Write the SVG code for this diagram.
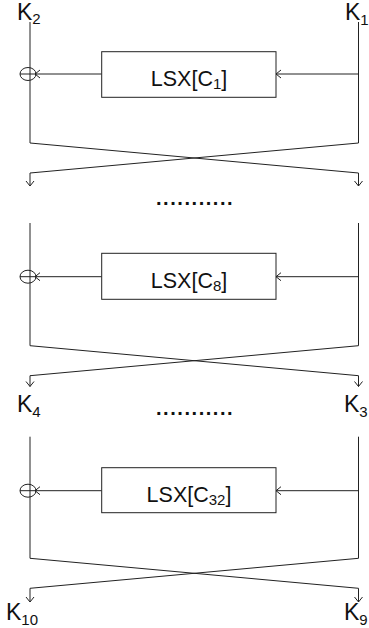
<svg xmlns="http://www.w3.org/2000/svg" width="369" height="628" viewBox="0 0 369 628">
<style>
.ln{fill:none;stroke:#222;stroke-width:1}
.box{fill:#fff;stroke:#222;stroke-width:1}
.xor{fill:none;stroke:#222;stroke-width:1}
.t{font-family:"Liberation Sans",Arial,sans-serif;fill:#111}
.k{font-size:23px}
.b{font-size:21.5px}
.sub{font-size:15px}
.dots{font-family:"Liberation Sans",Arial,sans-serif;font-size:20px;font-weight:bold;letter-spacing:1.55px;fill:#111}
</style>
<defs>
<marker id="arr" viewBox="-6 -5 7 10" markerWidth="7" markerHeight="10" refX="0" refY="0" orient="auto" markerUnits="userSpaceOnUse">
<path d="M-5,-4 L0,0 L-5,4" fill="none" stroke="#222" stroke-width="1"/>
</marker>
</defs>
<g id="connectors">
<path class="ln" d="M30,22 V143 L358.5,173 V186" marker-end="url(#arr)"/>
<path class="ln" d="M358.5,22 V143 L30,173 V186" marker-end="url(#arr)"/>
<path class="ln" d="M358.5,74 H276" marker-end="url(#arr)"/>
<path class="ln" d="M101.7,74 H35" marker-end="url(#arr)"/>
<path class="ln" d="M30,223 V345.7 L358.5,375.7 V386.5" marker-end="url(#arr)"/>
<path class="ln" d="M358.5,223 V345.7 L30,375.7 V386.5" marker-end="url(#arr)"/>
<path class="ln" d="M358.5,276.7 H276" marker-end="url(#arr)"/>
<path class="ln" d="M101.7,276.7 H35" marker-end="url(#arr)"/>
<path class="ln" d="M30,436.7 V558.3 L358.5,588.3 V602" marker-end="url(#arr)"/>
<path class="ln" d="M358.5,436.7 V558.3 L30,588.3 V602" marker-end="url(#arr)"/>
<path class="ln" d="M358.5,490.7 H276" marker-end="url(#arr)"/>
<path class="ln" d="M101.7,490.7 H35" marker-end="url(#arr)"/>
</g>
<g id="xor1"><ellipse class="xor" cx="28" cy="74" rx="8" ry="6.5"/><path class="xor" d="M20,74 H36"/></g>
<g id="xor2"><ellipse class="xor" cx="28" cy="276.7" rx="8" ry="6.5"/><path class="xor" d="M20,276.7 H36"/></g>
<g id="xor3"><ellipse class="xor" cx="28" cy="490.7" rx="8" ry="6.5"/><path class="xor" d="M20,490.7 H36"/></g>
<g id="lsx1">
<rect class="box" x="101.7" y="51.7" width="174.3" height="45.6"/>
<text class="t b" x="189" y="85.5" text-anchor="middle">LSX[C<tspan class="sub" dy="3">1</tspan><tspan dy="-3">]</tspan></text>
</g>
<g id="lsx8">
<rect class="box" x="101.7" y="253.3" width="174.3" height="46"/>
<text class="t b" x="189" y="287.5" text-anchor="middle">LSX[C<tspan class="sub" dy="3">8</tspan><tspan dy="-3">]</tspan></text>
</g>
<g id="lsx32">
<rect class="box" x="101.7" y="467.7" width="174.3" height="45"/>
<text class="t b" x="189" y="501.5" text-anchor="middle">LSX[C<tspan class="sub" dy="3">32</tspan><tspan dy="-3">]</tspan></text>
</g>
<g id="k2"><text class="t k" x="17" y="19.5">K<tspan class="sub" dy="4.5">2</tspan></text></g>
<g id="k1"><text class="t k" x="345" y="20">K<tspan class="sub" dy="5">1</tspan></text></g>
<g id="k4"><text class="t k" x="17" y="411.7">K<tspan class="sub" dy="5">4</tspan></text></g>
<g id="k3"><text class="t k" x="344" y="411.7">K<tspan class="sub" dy="5">3</tspan></text></g>
<g id="k10"><text class="t k" x="6" y="619.5">K<tspan class="sub" dy="5">10</tspan></text></g>
<g id="k9"><text class="t k" x="344" y="619.5">K<tspan class="sub" dy="5">9</tspan></text></g>
<g id="dots1"><text class="dots" x="156" y="205">...........</text></g>
<g id="dots2"><text class="dots" x="156" y="415">...........</text></g>
</svg>
